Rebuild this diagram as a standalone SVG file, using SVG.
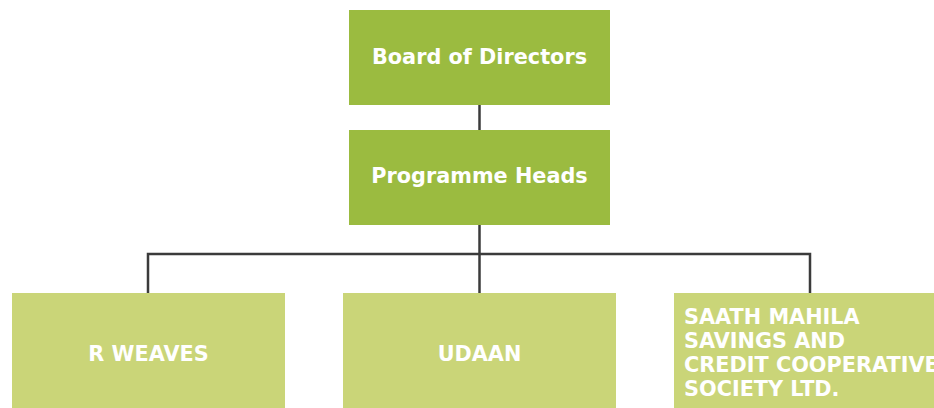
<svg xmlns="http://www.w3.org/2000/svg" width="934" height="408" viewBox="0 0 934 408">
  <style>
    .top { fill: #9bbb40; }
    .unit { fill: #cad578; }
    .lbl { font-family: "DejaVu Sans", Verdana, sans-serif; font-weight: bold; font-size: 20.8px; fill: #ffffff; }
    .mid { text-anchor: middle; }
    .conn { stroke: #3b3b3b; stroke-width: 2.5; fill: none; }
  </style>
  <rect width="934" height="408" fill="#ffffff"/>

  <g id="connectors">
    <line class="conn" x1="479.5" y1="105" x2="479.5" y2="130"/>
    <line class="conn" x1="479.5" y1="225" x2="479.5" y2="293"/>
    <polyline class="conn" points="148,293 148,254 810,254 810,293"/>
  </g>

  <g id="board">
    <rect class="top" x="349" y="10" width="261" height="95"/>
    <text class="lbl mid" x="479.5" y="64">Board of Directors</text>
  </g>

  <g id="programme-heads">
    <rect class="top" x="349" y="130" width="261" height="95"/>
    <text class="lbl mid" x="479.5" y="183">Programme Heads</text>
  </g>

  <g id="r-weaves">
    <rect class="unit" x="12" y="293" width="273" height="115"/>
    <text class="lbl mid" x="148.5" y="361">R WEAVES</text>
  </g>

  <g id="udaan">
    <rect class="unit" x="343" y="293" width="273" height="115"/>
    <text class="lbl mid" x="479.5" y="361">UDAAN</text>
  </g>

  <g id="saath">
    <rect class="unit" x="674" y="293" width="260" height="115"/>
    <text class="lbl" x="684" y="324">SAATH MAHILA</text>
    <text class="lbl" x="684" y="348">SAVINGS AND</text>
    <text class="lbl" x="684" y="372">CREDIT COOPERATIVE</text>
    <text class="lbl" x="684" y="396">SOCIETY LTD.</text>
  </g>
</svg>
